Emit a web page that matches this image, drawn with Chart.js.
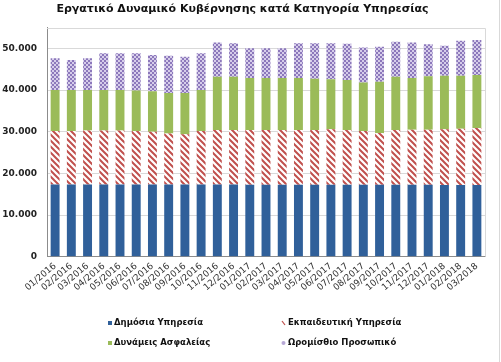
<!DOCTYPE html>
<html><head><meta charset="utf-8">
<script src="https://cdn.jsdelivr.net/npm/chart.js@4.4.1/dist/chart.umd.min.js"></script>
<style>html,body{margin:0;padding:0;background:#fff;}canvas{display:block;}</style>
</head><body>
<canvas id="c" width="501" height="362"></canvas>
<script>
const chartTitle = 'Εργατικό Δυναμικό Κυβέρνησης κατά Κατηγορία Υπηρεσίας';
const categories = ['01/2016','02/2016','03/2016','04/2016','05/2016','06/2016','07/2016','08/2016','09/2016','10/2016','11/2016','12/2016',
  '01/2017','02/2017','03/2017','04/2017','05/2017','06/2017','07/2017','08/2017','09/2017','10/2017','11/2017','12/2017',
  '01/2018','02/2018','03/2018'];
const seriesNames = ['Δημόσια Υπηρεσία','Εκπαιδευτική Υπηρεσία','Δυνάμεις Ασφαλείας','Ωρομίσθιο Προσωπικό'];
const publicService = [17350,17350,17350,17350,17350,17350,17350,17350,17350,17350,17350,17350,
  17300,17300,17300,17300,17300,17300,17300,17300,17300,17300,17300,17300,17250,17250,17250];
const educationService = [12850,12850,12950,12950,12950,12850,12650,12250,12050,12850,13050,13050,
  13100,13100,13100,13100,13100,13300,13100,12900,12400,13100,13200,13200,13350,13450,13650];
const securityForces = [9800,9800,9700,9700,9700,9700,9700,9700,9900,9800,12800,12800,
  12500,12500,12500,12500,12300,12000,12000,11600,12300,12800,12400,12800,12800,12700,12700];
const hourlyStaff = [7600,7200,7600,8800,8800,8900,8700,8900,8700,8800,8200,8000,
  7100,7100,7100,8300,8500,8600,8700,8400,8400,8400,8500,7700,7200,8400,8400];
const yTickValues = [0,10000,20000,30000,40000,50000];

function fmt(v){ return String(v).replace(/\B(?=(\d{3})+(?!\d))/g,'.'); }

function stripePattern(color){
  const c=document.createElement('canvas'); c.width=6; c.height=6;
  const g=c.getContext('2d');
  g.fillStyle='#fff'; g.fillRect(0,0,6,6);
  g.strokeStyle=color; g.lineWidth=2;
  g.beginPath();
  g.moveTo(-1,-1); g.lineTo(7,7);
  g.moveTo(-4,2); g.lineTo(2,8);
  g.moveTo(2,-4); g.lineTo(8,2);
  g.stroke();
  return g.createPattern(c,'repeat');
}
function checkPattern(dark, light){
  const c=document.createElement('canvas'); c.width=4; c.height=4;
  const g=c.getContext('2d');
  g.fillStyle=light; g.fillRect(0,0,4,4);
  g.fillStyle=dark; g.fillRect(0,0,2,2); g.fillRect(2,2,2,2);
  return g.createPattern(c,'repeat');
}

const colors = ['#30609a', stripePattern('#c0504d'), '#9bbb59', checkPattern('#8c78bb','#d6cdea')];

const frame = {
  id:'frame',
  afterDraw(chart){
    const {ctx, chartArea:a} = chart;
    ctx.save();
    ctx.strokeStyle='#d9d9d9'; ctx.lineWidth=1;
    ctx.beginPath();
    ctx.moveTo(a.left, Math.round(a.top)+0.5); ctx.lineTo(Math.round(a.right)+0.5, Math.round(a.top)+0.5);
    ctx.lineTo(Math.round(a.right)+0.5, a.bottom);
    ctx.moveTo(499.5,0); ctx.lineTo(499.5,362);
    ctx.stroke();
    ctx.restore();
  }
};

const gridLegend = {
  id:'gridLegend',
  afterDraw(chart){
    const ctx=chart.ctx;
    const cols=[108,282], rows=[323,343];
    ctx.save();
    ctx.font='bold 8.5px "DejaVu Sans"';
    ctx.textBaseline='middle';
    chart.data.datasets.forEach((ds,i)=>{
      const x=cols[i%2], y=rows[Math.floor(i/2)];
      if(i===1){
        ctx.strokeStyle='#c0504d'; ctx.lineWidth=1.2;
        ctx.beginPath(); ctx.moveTo(x,y-2); ctx.lineTo(x+3,y+2); ctx.stroke();
      } else if(i===3){
        ctx.fillStyle='#b7a8d6';
        ctx.beginPath(); ctx.arc(x+1.5,y,2,0,Math.PI*2); ctx.fill();
      } else {
        ctx.fillStyle=ds.backgroundColor; ctx.fillRect(x,y-2,4,4);
      }
      ctx.fillStyle='#111';
      ctx.fillText(ds.label,x+6,y);
    });
    ctx.restore();
  }
};

new Chart(document.getElementById('c'),{
  type:'bar',
  data:{
    labels:categories,
    datasets:[
      {label:seriesNames[0], data:publicService, backgroundColor:colors[0]},
      {label:seriesNames[1], data:educationService, backgroundColor:colors[1]},
      {label:seriesNames[2], data:securityForces, backgroundColor:colors[2]},
      {label:seriesNames[3], data:hourlyStaff, backgroundColor:colors[3]}
    ]
  },
  options:{
    responsive:false,
    animation:false,
    layout:{padding:{left:0,right:16,top:0,bottom:0}},
    datasets:{bar:{barPercentage:0.55,categoryPercentage:1.0,borderWidth:0}},
    plugins:{
      legend:{display:false},
      tooltip:{enabled:false},
      title:{display:true,text:chartTitle,color:'#111',
        font:{family:'DejaVu Sans',size:11,weight:'bold',lineHeight:1.2},
        padding:{top:3,bottom:11.3}}
    },
    scales:{
      x:{stacked:true,offset:true,
        grid:{display:false,drawTicks:false},
        border:{display:true,color:'#8c8c8c'},
        ticks:{maxRotation:40,minRotation:40,padding:4,autoSkip:false,color:'#333',
          font:{family:'DejaVu Sans',size:9}},
        afterFit(s){ s.height = 362-256.8; }
      },
      y:{stacked:true,min:0,max:55000,
        afterBuildTicks(s){ s.ticks = yTickValues.map(v=>({value:v})); },
        grid:{color:'#d9d9d9',drawTicks:false},
        border:{display:true,color:'#8c8c8c'},
        ticks:{padding:10,color:'#222',font:{family:'DejaVu Sans',size:9,weight:'bold'},
          callback:(v)=>fmt(v)},
        afterFit(s){ s.width = 47; }
      }
    }
  },
  plugins:[frame,gridLegend]
});
</script>
</body></html>
